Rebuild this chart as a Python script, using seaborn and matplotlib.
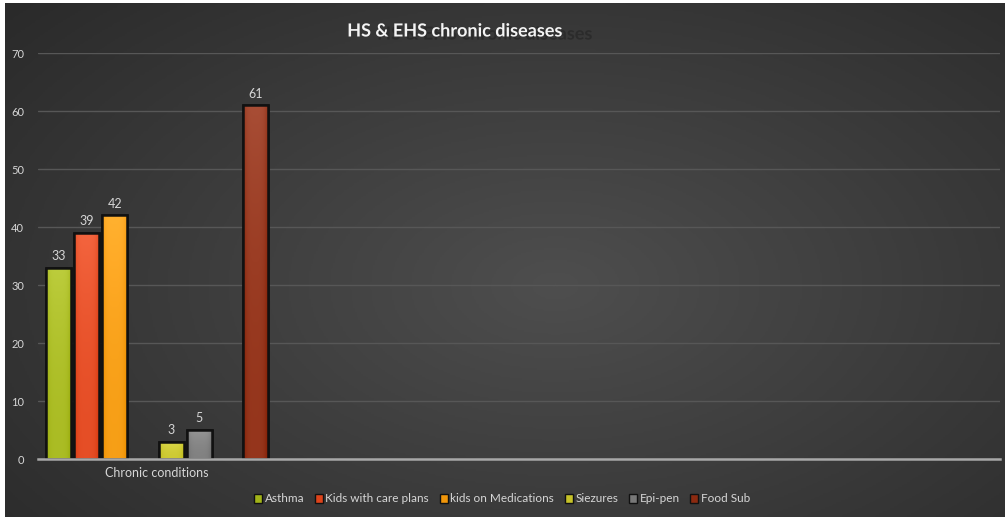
import numpy as np
import pandas as pd
import matplotlib
matplotlib.use("Agg")
import matplotlib.pyplot as plt
import matplotlib.colors as mcolors
import matplotlib.patheffects as pe
from matplotlib.patches import Patch, Rectangle
import seaborn as sns

# ---- data -------------------------------------------------------------
series = ["Asthma", "Kids with care plans", "kids on Medications",
          "Siezures", "Epi-pen", "Food Sub"]
counts = [33, 39, 42, 3, 5, 61]
category = "Chronic conditions"
y_ticks = [0, 10, 20, 30, 40, 50, 60, 70]
title = "HS & EHS chronic diseases"

# ---- styling ----------------------------------------------------------
colors = ["#a2b418", "#de431a", "#f0960a", "#c6c228", "#787878", "#8c2a10"]
bar_slot = [0, 1, 2, 4, 5, 7]          # slot index of each bar in the group
text_col = "#d6d6d6"

sns.set_theme(style="dark")
plt.rcParams["font.family"] = ["Lato", "DejaVu Sans"]

df = pd.DataFrame({"series": series, "count": counts, "slot": bar_slot})

fig = plt.figure(figsize=(10.05, 5.17), dpi=100, facecolor="white")

# radial dark-grey backdrop
bg = fig.add_axes([5 / 1005, 0, 1 - 5 / 1005, 1 - 3 / 517], zorder=-5)
yy, xx = np.mgrid[0:1:300j, 0:1:600j]
r = np.sqrt(((xx - 0.55) / 0.75) ** 2 + ((yy - 0.45) / 0.85) ** 2)
shade = np.clip(1 - r, 0, 1)
bg_cmap = mcolors.LinearSegmentedColormap.from_list("bg", ["#2a2a2a", "#4e4e4e"])
bg.imshow(shade, cmap=bg_cmap, aspect="auto", extent=[0, 1, 0, 1], origin="lower")
bg.set_axis_off()

ax = fig.add_axes([38 / 1005, 58 / 517, 962 / 1005, (459 - 53) / 517])
ax.set_facecolor("none")

sns.barplot(data=df, x="slot", y="count", hue="series", hue_order=series,
            palette=colors, native_scale=True, dodge=False, width=0.89,
            edgecolor="#111111", linewidth=1.8, legend=False, ax=ax, zorder=3)

# soft bevel shading inside each bar
for patch, col in zip(ax.patches, colors):
    x0, y0 = patch.get_x(), patch.get_y()
    w, h = patch.get_width(), patch.get_height()
    base = np.array(mcolors.to_rgb(col))
    gy = np.linspace(0, 1, 64)[:, None]
    gx = np.linspace(-1, 1, 32)[None, :]
    light = 0.10 * gy ** 2 + 0.05 - 0.10 * np.abs(gx) ** 4
    img = np.clip(base[None, None, :] + light[..., None] * (1 - base[None, None, :] * 0.5), 0, 1)
    im = ax.imshow(img, extent=[x0, x0 + w, y0, y0 + h], origin="lower",
                   aspect="auto", zorder=3.5, interpolation="bilinear")
    im.set_clip_path(patch)
    edge = Rectangle((x0, y0), w, h, fill=False, edgecolor="#111111",
                     linewidth=1.8, zorder=3.6)
    ax.add_patch(edge)
    ax.annotate(f"{int(y0 + h)}", (x0 + w / 2, y0 + h), xytext=(0, 4),
                textcoords="offset points", ha="center", va="bottom",
                fontsize=9, color=text_col, zorder=5)

ax.set_xlim(-0.74, 33.54)
ax.set_ylim(0, 70)
ax.set_yticks(y_ticks)
ax.set_yticklabels([str(v) for v in y_ticks], fontsize=8, color=text_col)
ax.set_xticks([np.mean([bar_slot[0], bar_slot[-1]])])
ax.set_xticklabels([category], fontsize=9, color=text_col)
ax.tick_params(axis="y", length=0, pad=10)
ax.tick_params(axis="x", length=0, pad=6)
ax.set_xlabel("")
ax.set_ylabel("")
ax.grid(axis="y", color="#575757", linewidth=1.0, zorder=0)
ax.grid(axis="x", visible=False)
for s in ["top", "right", "left"]:
    ax.spines[s].set_visible(False)
ax.spines["bottom"].set_color("#a8a8a8")
ax.spines["bottom"].set_linewidth(1.8)
ax.spines["bottom"].set_zorder(4)

# title with its dark offset shadow
fig.text(455 / 1005, 1 - 31 / 517, title, ha="center", va="center",
         fontsize=13, fontweight="bold", color="#f4f4f4", zorder=2,
         path_effects=[pe.SimplePatchShadow(offset=(21.6, -2.2),
                                            shadow_rgbFace="#2a2a2a", alpha=0.9),
                       pe.Normal()])

handles = [Patch(facecolor=c, edgecolor="#111111", linewidth=1.0, label=s)
           for s, c in zip(series, colors)]
leg = fig.legend(handles=handles, loc="center", bbox_to_anchor=(502 / 1005, 1 - 499 / 517),
                 ncol=6, frameon=False, fontsize=8.5, handlelength=0.7,
                 handleheight=0.7, handletextpad=0.2, columnspacing=0.9)
for t in leg.get_texts():
    t.set_color(text_col)

fig.savefig("out.png", dpi=100, facecolor=fig.get_facecolor())
